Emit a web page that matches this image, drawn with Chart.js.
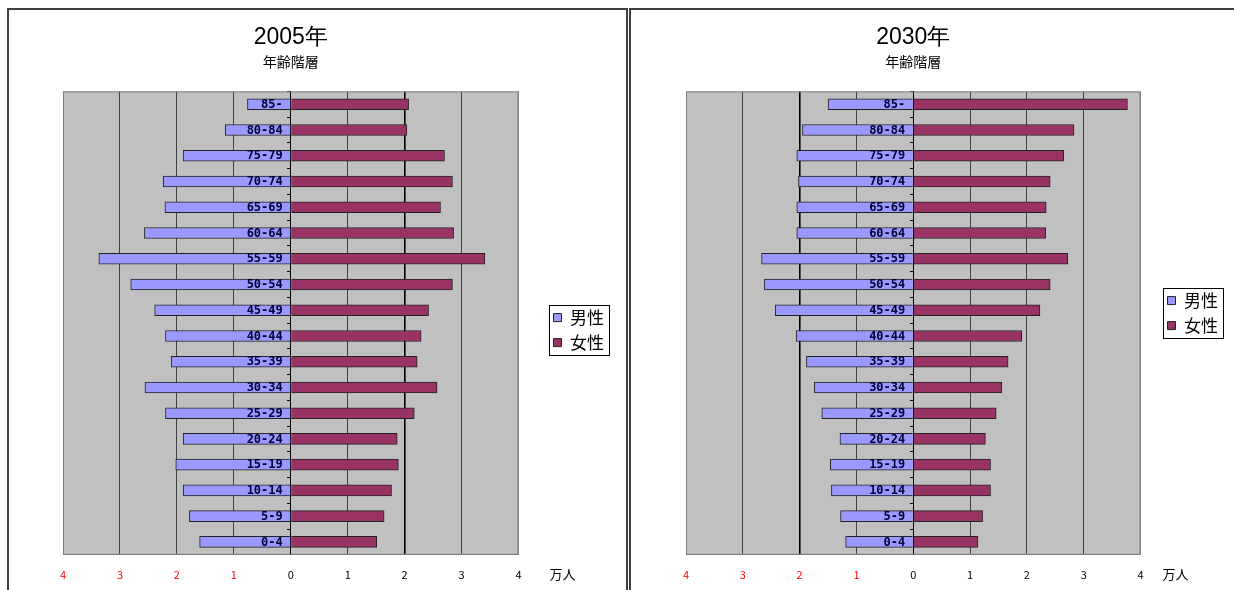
<!DOCTYPE html>
<html>
<head>
<meta charset="utf-8">
<script src="https://cdn.jsdelivr.net/npm/chart.js@4/dist/chart.umd.min.js"></script>
<style>
  body { margin: 0; background: #fff; width: 1234px; height: 590px; overflow: hidden; }
  .frame { position: absolute; top: 8px; border: 2px solid #404040; height: 610px; }
  #box2005 { left: 7px; width: 617px; }
  #box2030 { left: 629px; width: 620px; }
  .frame div { position: relative; width: 617px; height: 594px; }
</style>
</head>
<body>
<div class="frame" id="box2005"><div><canvas id="pyramid-2005"></canvas></div></div>
<div class="frame" id="box2030"><div><canvas id="pyramid-2030"></canvas></div></div>
<script>
// 年齢階層 (上から下)
var ageGroups = ['85-', '80-84', '75-79', '70-74', '65-69', '60-64', '55-59', '50-54', '45-49',
                 '40-44', '35-39', '30-34', '25-29', '20-24', '15-19', '10-14', '5-9', '0-4'];

// 単位: 万人
var male2005   = [0.76, 1.15, 1.89, 2.24, 2.21, 2.57, 3.37, 2.81, 2.39, 2.20, 2.10, 2.56, 2.20, 1.89, 2.02, 1.89, 1.78, 1.60];
var female2005 = [2.07, 2.04, 2.70, 2.84, 2.63, 2.86, 3.41, 2.84, 2.42, 2.29, 2.22, 2.57, 2.17, 1.87, 1.89, 1.77, 1.64, 1.51];
var male2030   = [1.50, 1.95, 2.05, 2.02, 2.05, 2.05, 2.67, 2.62, 2.43, 2.06, 1.88, 1.74, 1.61, 1.29, 1.46, 1.44, 1.28, 1.19];
var female2030 = [3.77, 2.83, 2.65, 2.41, 2.34, 2.33, 2.72, 2.41, 2.23, 1.91, 1.67, 1.56, 1.46, 1.27, 1.36, 1.36, 1.22, 1.14];

var xTicks = [-4, -3, -2, -1, 0, 1, 2, 3, 4];

const FONT = "'Noto Sans CJK JP', 'Liberation Sans', sans-serif";

// 灰色の描画エリア、年齢ラベル、凡例の枠、単位
const pyramidFrame = {
    id: 'pyramidFrame',
    afterLayout(chart, args, opts) {
        const lg = chart.legend;
        const w = lg.width, h = lg.height;
        lg.left = chart.chartArea.right + opts.legendGap;
        lg.right = lg.left + w;
        lg.top += opts.legendShiftY;
        lg.bottom = lg.top + h;
    },
    beforeDraw(chart) {
        const {ctx, chartArea: a} = chart;
        ctx.save();
        ctx.fillStyle = '#C0C0C0';
        ctx.fillRect(a.left, a.top, a.width, a.height);
        ctx.restore();
    },
    afterDatasetsDraw(chart) {
        const {ctx, scales: {x, y}} = chart;
        const x0 = x.getPixelForValue(0) - 8;
        ctx.save();
        ctx.fillStyle = '#000033';
        ctx.font = 'bold 12px "DejaVu Sans Mono", monospace';
        ctx.textAlign = 'right';
        ctx.textBaseline = 'middle';
        chart.data.labels.forEach((lab, i) => {
            ctx.fillText(lab, x0, y.getPixelForTick(i) + 0.5);
        });
        ctx.restore();
    },
    afterDraw(chart, args, opts) {
        const {ctx, chartArea: a} = chart;
        ctx.save();
        ctx.strokeStyle = '#808080';
        ctx.lineWidth = 1;
        ctx.strokeRect(a.left + 0.5, a.top + 0.5, a.width - 1, a.height - 1);

        const boxes = chart.legend.legendHitBoxes;
        if (boxes && boxes.length) {
            let l = Infinity, t = Infinity, r = -Infinity, b = -Infinity;
            boxes.forEach(hb => {
                l = Math.min(l, hb.left); t = Math.min(t, hb.top);
                r = Math.max(r, hb.left + hb.width); b = Math.max(b, hb.top + hb.height);
            });
            ctx.strokeStyle = '#000';
            ctx.strokeRect(Math.round(l - 5) + 0.5, Math.round(t - 4) + 0.5, Math.round(r - l + 10), Math.round(b - t + 8));
        }

        ctx.fillStyle = '#000';
        ctx.font = '13px ' + FONT;
        ctx.textAlign = 'center';
        ctx.textBaseline = 'middle';
        ctx.fillText('万人', a.right + opts.unitOffset, a.bottom + 19);
        ctx.restore();
    }
};

function makePyramid(canvasId, year, male, female, darkValue, frameOpts) {
    return new Chart(document.getElementById(canvasId), {
        type: 'bar',
        data: {
            labels: ageGroups,
            datasets: [{
                label: '男性',
                data: male.map(v => -v),
                backgroundColor: '#9999FF',
                borderColor: '#222',
                borderWidth: 1,
                barThickness: 11,
            }, {
                label: '女性',
                data: female,
                backgroundColor: '#993366',
                borderColor: '#222',
                borderWidth: 1,
                barThickness: 11,
            }]
        },
        options: {
            indexAxis: 'y',
            responsive: true,
            maintainAspectRatio: false,
            animation: false,
            layout: {
                padding: { left: frameOpts.padLeft, right: 39, top: 0, bottom: 10 }
            },
            plugins: {
                tooltip: { enabled: false },
                title: {
                    display: true,
                    text: year,
                    fullSize: false,
                    color: '#000',
                    padding: { top: 14, bottom: 2 },
                    font: { family: "'Liberation Sans', sans-serif", size: 23, weight: 'normal' }
                },
                subtitle: {
                    display: true,
                    text: '年齢階層',
                    fullSize: false,
                    color: '#000',
                    padding: { top: 0, bottom: 21 },
                    font: { family: FONT, size: 14 }
                },
                legend: {
                    position: 'right',
                    fullSize: false,
                    labels: {
                        color: '#000',
                        boxWidth: 8,
                        boxHeight: 8,
                        padding: 8,
                        font: { family: FONT, size: 17 }
                    }
                },
                pyramidFrame: frameOpts
            },
            scales: {
                x: {
                    type: 'linear',
                    min: -4,
                    max: 4,
                    stacked: true,
                    afterBuildTicks: axis => { axis.ticks = xTicks.map(v => ({ value: v })); },
                    grid: {
                        drawTicks: false,
                        color: ctx => {
                            const v = ctx.tick ? ctx.tick.value : 0;
                            if (v === darkValue) return '#000';
                            if (Math.abs(v) === 4) return '#808080';
                            return '#404040';
                        },
                        lineWidth: ctx => (ctx.tick && ctx.tick.value === darkValue ? 1.6 : 1)
                    },
                    border: { color: '#808080' },
                    ticks: {
                        padding: 13,
                        callback: v => Math.abs(v),
                        color: ctx => (ctx.tick.value < 0 ? '#FF0000' : '#000'),
                        font: { family: FONT, size: 11 }
                    }
                },
                y: {
                    type: 'category',
                    stacked: true,
                    position: { x: 0 },
                    z: 1,
                    grid: {
                        drawOnChartArea: false,
                        drawTicks: true,
                        tickLength: 3,
                        color: '#000'
                    },
                    border: { display: true, color: '#000', width: 1 },
                    ticks: { display: false }
                }
            }
        },
        plugins: [pyramidFrame]
    });
}

makePyramid('pyramid-2005', '2005年', male2005, female2005, 2,
    { padLeft: 54, legendGap: 27, legendShiftY: 7, unitOffset: 44 });
makePyramid('pyramid-2030', '2030年', male2030, female2030, -2,
    { padLeft: 55, legendGap: 19, legendShiftY: -10, unitOffset: 35 });
</script>
</body>
</html>
